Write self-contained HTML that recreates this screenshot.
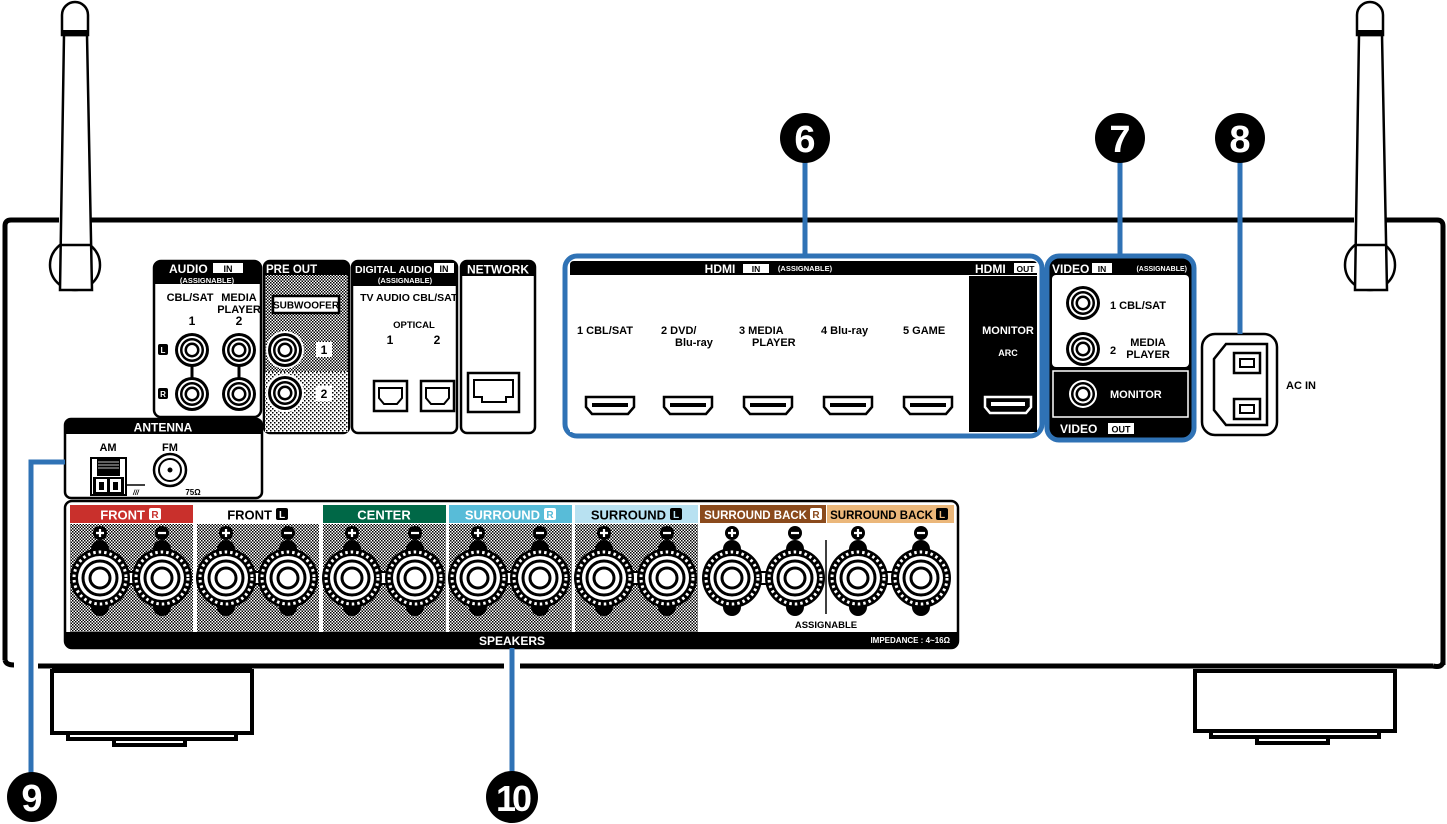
<!DOCTYPE html>
<html><head><meta charset="utf-8"><style>
html,body{margin:0;padding:0;background:#fff;}
svg{display:block;}
text{font-family:"Liberation Sans",Arial,sans-serif;font-weight:bold;}
</style></head><body>
<svg width="1447" height="824" viewBox="0 0 1447 824" xmlns="http://www.w3.org/2000/svg">
<defs>
<pattern id="dith" width="3" height="3" patternUnits="userSpaceOnUse">
<rect width="3" height="3" fill="#fff"/><rect width="1.5" height="1.5" fill="#000"/><rect x="1.5" y="1.5" width="1.5" height="1.5" fill="#000"/>
</pattern>
<pattern id="dith2" width="4" height="4" patternUnits="userSpaceOnUse">
<rect width="4" height="4" fill="#fff"/><rect width="1.5" height="1.5" fill="#000"/><rect x="2" y="2" width="1.5" height="1.5" fill="#000"/>
</pattern>
<symbol id="term" viewBox="-33 -45 66 90" width="66" height="90" overflow="visible">
<rect x="-9" y="-38" width="18" height="24" rx="9" fill="#000"/>
<rect x="-9" y="14" width="18" height="24" rx="9" fill="#000"/>
<circle r="30" fill="#000"/>
<circle r="26" fill="none" stroke="#fff" stroke-width="3" stroke-dasharray="2.5 3"/>
<circle r="22" fill="#fff"/>
<circle r="17" fill="none" stroke="#000" stroke-width="3"/>
<circle r="10" fill="none" stroke="#000" stroke-width="3"/>
</symbol>
<symbol id="rca" viewBox="-20 -20 40 40" width="40" height="40" overflow="visible">
<circle r="17" fill="#000"/><circle r="14" fill="#fff"/><circle r="12" fill="#000"/><circle r="9.5" fill="#fff"/><circle r="7.5" fill="#000"/><circle r="5" fill="#fff"/>
</symbol>
<symbol id="hdmi" viewBox="-26 -10 52 20" width="52" height="20" overflow="visible">
<path d="M-24,-8 H24 V2 L18,9 H-18 L-24,2 Z" fill="#fff" stroke="#000" stroke-width="2.5"/>
<rect x="-18" y="-2" width="36" height="4" fill="#000"/>
</symbol>
</defs>

<!-- antennas -->
<g fill="#fff" stroke="#000" stroke-width="2.5">
<circle cx="75" cy="265" r="25"/>
<path d="M64,35 L87,35 L92,290 L60,290 Z"/>
<path d="M62,35 V15 A13,13 0 0 1 88,15 V35 Z"/>
<line x1="60" y1="245" x2="92" y2="245"/>
<circle cx="1370" cy="265" r="25"/>
<path d="M1359,35 L1382,35 L1387,290 L1355,290 Z"/>
<path d="M1357,35 V15 A13,13 0 0 1 1383,15 V35 Z"/>
<line x1="1355" y1="245" x2="1387" y2="245"/>
</g>
<rect x="62" y="30" width="26" height="4" fill="#000"/>
<rect x="1357" y="30" width="26" height="4" fill="#000"/>

<!-- chassis -->
<path d="M5,660 V226 Q5,220 11,220 H59" fill="none" stroke="#000" stroke-width="5"/>
<line x1="91" y1="220" x2="1354" y2="220" stroke="#000" stroke-width="5"/>
<path d="M1386,220 H1437 Q1443,220 1443,226 V665" fill="none" stroke="#000" stroke-width="5"/>
<path d="M5,660 Q6,665 14,665" fill="none" stroke="#000" stroke-width="5"/>
<path d="M1443,662 Q1442,668 1433,666" fill="none" stroke="#000" stroke-width="5"/>
<line x1="38" y1="666" x2="504" y2="666" stroke="#000" stroke-width="5"/>
<line x1="520" y1="666" x2="1433" y2="666" stroke="#000" stroke-width="5"/>
<!-- feet -->
<g fill="none" stroke="#000">
<rect x="52" y="671" width="200" height="62" stroke-width="4"/>
<line x1="52" y1="669" x2="252" y2="669" stroke-width="2"/>
<path d="M68,735 V739 H236 V735" stroke-width="4"/>
<path d="M114,740 V745 H185 V740" stroke-width="4"/>
<rect x="1195" y="671" width="200" height="60" stroke-width="4"/>
<path d="M1211,733 V737 H1379 V733" stroke-width="4"/>
<path d="M1257,738 V743 H1328 V738" stroke-width="4"/>
</g>

<!-- AUDIO IN -->
<rect x="154" y="261" width="107" height="156" rx="7" fill="#fff" stroke="#000" stroke-width="2.5"/>
<path d="M154,284 V268 Q154,261 161,261 H254 Q261,261 261,268 V284 Z" fill="#000"/>
<text x="169" y="273" font-size="12" fill="#fff">AUDIO</text>
<rect x="213" y="263" width="30" height="10" fill="#fff"/>
<text x="228" y="272" font-size="9" fill="#000" text-anchor="middle">IN</text>
<text x="207" y="283" font-size="7.5" fill="#fff" text-anchor="middle">(ASSIGNABLE)</text>
<text x="190" y="301" font-size="11" text-anchor="middle">CBL/SAT</text>
<text x="239" y="301" font-size="11" text-anchor="middle">MEDIA</text>
<text x="239" y="313" font-size="11" text-anchor="middle">PLAYER</text>
<text x="192" y="325" font-size="12" text-anchor="middle">1</text>
<text x="239" y="325" font-size="12" text-anchor="middle">2</text>
<line x1="192" y1="350" x2="192" y2="394" stroke="#000" stroke-width="3"/>
<line x1="239" y1="350" x2="239" y2="394" stroke="#000" stroke-width="3"/>
<use href="#rca" x="172" y="330"/><use href="#rca" x="219" y="330"/>
<use href="#rca" x="172" y="374"/><use href="#rca" x="219" y="374"/>
<rect x="158" y="344" width="10" height="11" rx="2" fill="#000"/><text x="163" y="353" font-size="8" fill="#fff" text-anchor="middle">L</text>
<rect x="158" y="388" width="10" height="11" rx="2" fill="#000"/><text x="163" y="397" font-size="8" fill="#fff" text-anchor="middle">R</text>

<!-- PRE OUT -->
<rect x="264" y="261" width="85" height="172" rx="6" fill="url(#dith)" stroke="#000" stroke-width="2.5"/>
<rect x="265" y="372" width="83" height="60" fill="url(#dith2)"/>
<path d="M264,275 V268 Q264,261 271,261 H342 Q349,261 349,268 V275 Z" fill="#000"/>
<text x="266" y="273" font-size="11.5" fill="#fff">PRE OUT</text>
<rect x="273" y="296" width="66" height="17" fill="#fff" stroke="#000" stroke-width="2.5"/>
<text x="306" y="308.5" font-size="10" text-anchor="middle">SUBWOOFER</text>
<circle cx="285" cy="350" r="19" fill="#fff"/><use href="#rca" x="265" y="330"/>
<circle cx="285" cy="393" r="19" fill="#fff"/><use href="#rca" x="265" y="373"/>
<rect x="316" y="342" width="16" height="15" fill="#fff"/><text x="324" y="354" font-size="12" text-anchor="middle">1</text>
<rect x="316" y="386" width="16" height="15" fill="#fff"/><text x="324" y="398" font-size="12" text-anchor="middle">2</text>

<!-- DIGITAL AUDIO -->
<rect x="352" y="261" width="105" height="172" rx="6" fill="#fff" stroke="#000" stroke-width="2.5"/>
<path d="M352,286 V268 Q352,261 359,261 H450 Q457,261 457,268 V286 Z" fill="#000"/>
<text x="355" y="273" font-size="10.5" fill="#fff">DIGITAL AUDIO</text>
<rect x="434" y="263" width="20" height="10" fill="#fff"/><text x="444" y="272" font-size="9" text-anchor="middle">IN</text>
<text x="405" y="283" font-size="7.5" fill="#fff" text-anchor="middle">(ASSIGNABLE)</text>
<text x="385" y="301" font-size="10.5" text-anchor="middle">TV AUDIO</text>
<text x="435" y="301" font-size="10.5" text-anchor="middle">CBL/SAT</text>
<text x="414" y="328" font-size="9.5" text-anchor="middle">OPTICAL</text>
<text x="390" y="344" font-size="12" text-anchor="middle">1</text>
<text x="437" y="344" font-size="12" text-anchor="middle">2</text>
<g fill="#fff" stroke="#000" stroke-width="2.5">
<rect x="374" y="381" width="33" height="30"/><path d="M379,388 H402 V398 L397,404 H384 L379,398 Z" stroke-width="2"/>
<rect x="421" y="381" width="33" height="30"/><path d="M426,388 H449 V398 L444,404 H431 L426,398 Z" stroke-width="2"/>
</g>

<!-- NETWORK -->
<rect x="461" y="261" width="74" height="172" rx="6" fill="#fff" stroke="#000" stroke-width="2.5"/>
<path d="M461,276 V268 Q461,261 468,261 H528 Q535,261 535,268 V276 Z" fill="#000"/>
<text x="498" y="273.5" font-size="12" fill="#fff" text-anchor="middle">NETWORK</text>
<rect x="468" y="373" width="51" height="39" fill="#fff" stroke="#000" stroke-width="2.5"/>
<path d="M474,380 H513 V397 H506 V402 H482 V397 H474 Z" fill="none" stroke="#000" stroke-width="2"/>

<!-- ANTENNA -->
<rect x="65" y="419" width="197" height="79" rx="6" fill="#fff" stroke="#000" stroke-width="2.5"/>
<path d="M65,434 V426 Q65,419 72,419 H255 Q262,419 262,426 V434 Z" fill="#000"/>
<text x="163" y="431.5" font-size="12" fill="#fff" text-anchor="middle">ANTENNA</text>
<text x="108" y="451" font-size="11" text-anchor="middle">AM</text>
<text x="170" y="451" font-size="11" text-anchor="middle">FM</text>
<rect x="91" y="458" width="35" height="37" fill="#fff" stroke="#000" stroke-width="2"/>
<path d="M97,476 V459 H120 V476" fill="#000"/>
<g stroke="#fff" stroke-width="0.8"><line x1="98" y1="462" x2="119" y2="462"/><line x1="98" y1="465" x2="119" y2="465"/><line x1="98" y1="468" x2="119" y2="468"/></g>
<rect x="93" y="477" width="31" height="17" fill="#000"/>
<rect x="96" y="479" width="11" height="13" fill="#fff"/><rect x="99" y="482" width="5" height="8" fill="#000"/>
<rect x="110" y="479" width="11" height="13" fill="#fff"/><rect x="113" y="482" width="5" height="8" fill="#000"/>
<path d="M126,485 H145" stroke="#000" stroke-width="1.5"/>
<text x="133" y="495" font-size="7" font-style="italic">///</text>
<circle cx="170" cy="470" r="16" fill="#fff" stroke="#000" stroke-width="2.5"/>
<circle cx="170" cy="470" r="11" fill="none" stroke="#000" stroke-width="2"/>
<circle cx="170" cy="470" r="2.5" fill="#000"/>
<text x="193" y="495" font-size="8" text-anchor="middle">75Ω</text>

<!-- SPEAKERS -->
<rect x="65" y="501" width="893" height="147" rx="7" fill="#fff" stroke="#000" stroke-width="2.5"/>
<path d="M65,632 H958 V641 Q958,648 951,648 H72 Q65,648 65,641 Z" fill="#000"/>
<rect x="70" y="524" width="123" height="108" fill="url(#dith)"/>
<rect x="197" y="524" width="122" height="108" fill="url(#dith)"/>
<rect x="323" y="524" width="123" height="108" fill="url(#dith)"/>
<rect x="449" y="524" width="123" height="108" fill="url(#dith)"/>
<rect x="575" y="524" width="123" height="108" fill="url(#dith)"/>
<rect x="70" y="505" width="123" height="18" fill="#c9302c"/>
<rect x="323" y="505" width="123" height="18" fill="#006847"/>
<rect x="449" y="505" width="123" height="18" fill="#58bcd8"/>
<rect x="575" y="505" width="123" height="18" fill="#b8e1f1"/>
<rect x="700" y="505" width="126" height="18" fill="#8a4a1c"/>
<rect x="827" y="505" width="127" height="18" fill="#ebb77a"/>
<g font-size="13" text-anchor="end">
<text x="145" y="519.5" fill="#fff">FRONT</text>
<text x="272" y="519.5">FRONT</text>
<text x="540" y="519.5" fill="#fff">SURROUND</text>
<text x="666" y="519.5">SURROUND</text>
<text x="807" y="519" fill="#fff" font-size="11.5">SURROUND BACK</text>
<text x="933" y="519" font-size="11.5">SURROUND BACK</text>
</g>
<text x="384" y="519.5" font-size="13" fill="#fff" text-anchor="middle">CENTER</text>
<g>
<rect x="149" y="508" width="12" height="12" rx="2" fill="#fff"/><text x="155" y="518" font-size="10" fill="#c9302c" text-anchor="middle">R</text>
<rect x="276" y="508" width="12" height="12" rx="2" fill="#000"/><text x="282" y="518" font-size="10" fill="#fff" text-anchor="middle">L</text>
<rect x="544" y="508" width="12" height="12" rx="2" fill="#fff"/><text x="550" y="518" font-size="10" fill="#58bcd8" text-anchor="middle">R</text>
<rect x="670" y="508" width="12" height="12" rx="2" fill="#000"/><text x="676" y="518" font-size="10" fill="#b8e1f1" text-anchor="middle">L</text>
<rect x="810" y="508" width="12" height="12" rx="2" fill="#fff"/><text x="816" y="518" font-size="10" fill="#8a4a1c" text-anchor="middle">R</text>
<rect x="936" y="508" width="12" height="12" rx="2" fill="#000"/><text x="942" y="518" font-size="10" fill="#ebb77a" text-anchor="middle">L</text>
</g>
<g>
<rect x="96" y="572" width="70" height="12" fill="#fff" stroke="#000" stroke-width="2"/>
<rect x="222" y="572" width="70" height="12" fill="#fff" stroke="#000" stroke-width="2"/>
<rect x="348" y="572" width="71" height="12" fill="#fff" stroke="#000" stroke-width="2"/>
<rect x="474" y="572" width="70" height="12" fill="#fff" stroke="#000" stroke-width="2"/>
<rect x="600" y="572" width="71" height="12" fill="#fff" stroke="#000" stroke-width="2"/>
<rect x="728" y="572" width="71" height="12" fill="#fff" stroke="#000" stroke-width="2"/>
<rect x="854" y="572" width="71" height="12" fill="#fff" stroke="#000" stroke-width="2"/>
</g>
<g>
<use href="#term" x="67" y="533"/><use href="#term" x="129" y="533"/>
<use href="#term" x="193" y="533"/><use href="#term" x="255" y="533"/>
<use href="#term" x="319" y="533"/><use href="#term" x="382" y="533"/>
<use href="#term" x="445" y="533"/><use href="#term" x="507" y="533"/>
<use href="#term" x="571" y="533"/><use href="#term" x="634" y="533"/>
<use href="#term" x="699" y="533"/><use href="#term" x="762" y="533"/>
<use href="#term" x="825" y="533"/><use href="#term" x="888" y="533"/>
</g>
<g fill="#000">
<circle cx="100" cy="533" r="7"/><circle cx="162" cy="533" r="7"/>
<circle cx="226" cy="533" r="7"/><circle cx="288" cy="533" r="7"/>
<circle cx="352" cy="533" r="7"/><circle cx="415" cy="533" r="7"/>
<circle cx="478" cy="533" r="7"/><circle cx="540" cy="533" r="7"/>
<circle cx="604" cy="533" r="7"/><circle cx="667" cy="533" r="7"/>
<circle cx="732" cy="533" r="7"/><circle cx="795" cy="533" r="7"/>
<circle cx="858" cy="533" r="7"/><circle cx="921" cy="533" r="7"/>
</g>
<g stroke="#fff" stroke-width="2.2">
<path d="M96,533 H104 M100,529 V537"/><path d="M158,533 H166"/>
<path d="M222,533 H230 M226,529 V537"/><path d="M284,533 H292"/>
<path d="M348,533 H356 M352,529 V537"/><path d="M411,533 H419"/>
<path d="M474,533 H482 M478,529 V537"/><path d="M536,533 H544"/>
<path d="M600,533 H608 M604,529 V537"/><path d="M663,533 H671"/>
<path d="M728,533 H736 M732,529 V537"/><path d="M791,533 H799"/>
<path d="M854,533 H862 M858,529 V537"/><path d="M917,533 H925"/>
</g>
<line x1="826" y1="540" x2="826" y2="614" stroke="#000" stroke-width="1.5"/>
<text x="826" y="628" font-size="9.5" text-anchor="middle">ASSIGNABLE</text>
<text x="512" y="645" font-size="12" fill="#fff" text-anchor="middle">SPEAKERS</text>
<text x="950" y="643" font-size="8" fill="#fff" text-anchor="end">IMPEDANCE : 4~16Ω</text>

<!-- HDMI -->
<rect x="565" y="256" width="477" height="180" rx="12" fill="#fff" stroke="#2f72b5" stroke-width="5"/>
<path d="M570,275 V265 Q570,261 574,261 H1033 Q1037,261 1037,265 V275 Z" fill="#000"/>
<rect x="570" y="275" width="397" height="157" fill="#fff"/>
<rect x="969" y="276" width="68" height="156" fill="#000"/>
<text x="720" y="273" font-size="12" fill="#fff" text-anchor="middle">HDMI</text>
<rect x="743" y="264" width="26" height="9" fill="#fff"/><text x="756" y="272" font-size="8.5" text-anchor="middle">IN</text>
<text x="805" y="271" font-size="7.5" fill="#fff" text-anchor="middle">(ASSIGNABLE)</text>
<text x="975" y="273" font-size="12" fill="#fff">HDMI</text>
<rect x="1014" y="263" width="23" height="10" fill="#fff"/><text x="1025.5" y="272" font-size="8.5" text-anchor="middle">OUT</text>
<g font-size="11" text-anchor="start">
<text x="577" y="334">1  CBL/SAT</text>
<text x="661" y="334">2   DVD/</text><text x="675" y="346">Blu-ray</text>
<text x="739" y="334">3   MEDIA</text><text x="752" y="346">PLAYER</text>
<text x="821" y="334">4  Blu-ray</text>
<text x="903" y="334">5  GAME</text>
</g>
<use href="#hdmi" x="584" y="395"/><use href="#hdmi" x="662" y="395"/>
<use href="#hdmi" x="742" y="395"/><use href="#hdmi" x="822" y="395"/><use href="#hdmi" x="902" y="395"/>
<text x="1008" y="334" font-size="11" fill="#fff" text-anchor="middle">MONITOR</text>
<text x="1008" y="356" font-size="9" fill="#fff" text-anchor="middle">ARC</text>
<path d="M985,397 H1031 V407 L1026,413 H990 L985,407 Z" fill="#000" stroke="#fff" stroke-width="2.5"/>
<rect x="991" y="402" width="34" height="4" fill="#fff"/>

<!-- VIDEO -->
<rect x="1047" y="256" width="147" height="184" rx="12" fill="#000" stroke="#2f72b5" stroke-width="5"/>
<rect x="1052" y="275" width="137" height="92" rx="4" fill="#fff"/>
<rect x="1053" y="371" width="135" height="46" fill="#000" stroke="#fff" stroke-width="1.5"/>
<text x="1052" y="273" font-size="12" fill="#fff">VIDEO</text>
<rect x="1092" y="263" width="20" height="10" fill="#fff"/><text x="1102" y="272" font-size="8.5" text-anchor="middle">IN</text>
<text x="1187" y="271" font-size="7" fill="#fff" text-anchor="end">(ASSIGNABLE)</text>
<use href="#rca" x="1063" y="283"/><use href="#rca" x="1063" y="329"/>
<text x="1110" y="309" font-size="11">1  CBL/SAT</text>
<text x="1110" y="354" font-size="11">2</text>
<text x="1148" y="346" font-size="11" text-anchor="middle">MEDIA</text>
<text x="1148" y="358" font-size="11" text-anchor="middle">PLAYER</text>
<circle cx="1083" cy="394" r="16" fill="#fff"/><use href="#rca" x="1063" y="374"/>
<text x="1110" y="398" font-size="11" fill="#fff">MONITOR</text>
<text x="1060" y="433" font-size="12" fill="#fff">VIDEO</text>
<rect x="1108" y="423" width="26" height="11" fill="#fff"/><text x="1121" y="432.5" font-size="9" text-anchor="middle">OUT</text>

<!-- AC IN -->
<rect x="1202" y="334" width="75" height="101" rx="13" fill="#fff" stroke="#000" stroke-width="2.5"/>
<path d="M1226,344 H1267 V425 H1226 L1214,410 V359 Z" fill="#fff" stroke="#000" stroke-width="2.5"/>
<rect x="1234" y="353" width="26" height="20" fill="none" stroke="#000" stroke-width="2.5"/>
<rect x="1240" y="359" width="14" height="8" fill="none" stroke="#000" stroke-width="2"/>
<rect x="1234" y="399" width="26" height="20" fill="none" stroke="#000" stroke-width="2.5"/>
<rect x="1240" y="405" width="14" height="8" fill="none" stroke="#000" stroke-width="2"/>
<text x="1286" y="389" font-size="11">AC IN</text>

<!-- callouts -->
<g stroke="#2f72b5" stroke-width="5" fill="none">
<line x1="805" y1="160" x2="805" y2="256"/>
<line x1="1120" y1="160" x2="1120" y2="256"/>
<line x1="1240" y1="160" x2="1240" y2="334"/>
<path d="M65,462 H31 V775"/>
<line x1="512" y1="648" x2="512" y2="775"/>
</g>
<g fill="#000">
<circle cx="805" cy="138" r="25"/><circle cx="1120" cy="138" r="25"/><circle cx="1240" cy="138" r="25"/>
<circle cx="32" cy="797" r="25"/><circle cx="512" cy="797" r="26"/>
</g>
<g fill="#fff" font-size="38" text-anchor="middle">
<text x="805" y="152">6</text><text x="1120" y="152">7</text><text x="1240" y="152">8</text>
<text x="32" y="811">9</text>
<text x="512" y="811" font-size="36" letter-spacing="-4">10</text>
</g>
</svg>
</body></html>
